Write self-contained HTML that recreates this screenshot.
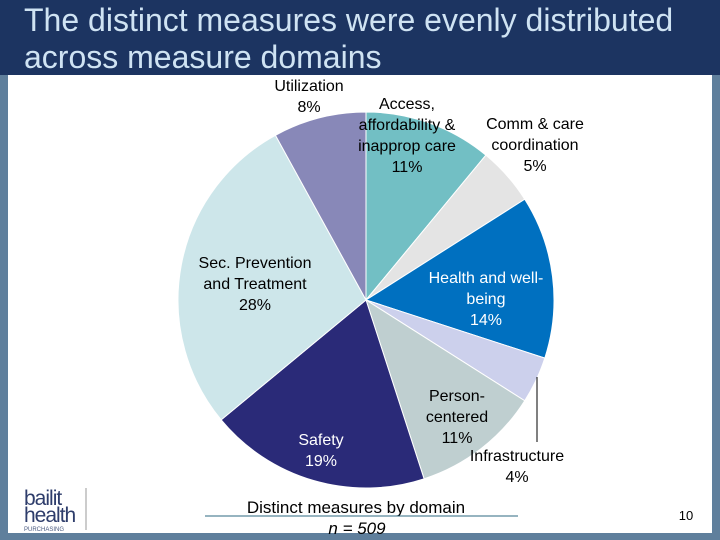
<!DOCTYPE html>
<html><head><meta charset="utf-8"><style>
body{margin:0;width:720px;height:540px;overflow:hidden;background:#5f7f9c;font-family:"Liberation Sans",sans-serif;}
#frame{position:absolute;left:0;top:0;width:720px;height:540px;}
#content{position:absolute;left:8px;top:75px;width:704px;height:458px;background:#fff;}
#header{position:absolute;left:0;top:0;width:720px;height:75px;background:#1c3461;}
#title{position:absolute;left:24px;top:2px;color:#cfe3f3;font-size:32px;line-height:37px;white-space:nowrap;}
svg{position:absolute;left:0;top:0;}
</style></head><body>
<div id="frame">
<div id="content"></div>
<div id="header"><div id="title">The distinct measures were evenly distributed<br>across measure domains</div></div>
<svg width="720" height="540" id="chart"></svg>
</div>
<script>
const categories=["Access","Comm & care coordination","Health and well-being","Infrastructure","Person-centered","Safety","Sec. Prevention and Treatment","Utilization"];
const values=[11,5,14,4,11,19,28,8];
const colors=["#72bfc4","#e4e4e4","#0070c0","#ccd0ec","#bfcfd0","#2a2a78","#cde6ea","#8888b8"];
const NS="http://www.w3.org/2000/svg";
const svg=document.getElementById('chart');
const cx=366,cy=300,r=188;
const total=values.reduce((a,b)=>a+b,0);
let a0=0;
function pt(a){return [cx+r*Math.sin(a),cy-r*Math.cos(a)];}
values.forEach((v,i)=>{
  const a1=a0+v/total*2*Math.PI;
  const p0=pt(a0),p1=pt(a1);
  const p=document.createElementNS(NS,'path');
  p.setAttribute('d',`M${cx},${cy}L${p0[0]},${p0[1]}A${r},${r} 0 ${a1-a0>Math.PI?1:0} 1 ${p1[0]},${p1[1]}Z`);
  p.setAttribute('fill',colors[i]);p.setAttribute('stroke','#fff');p.setAttribute('stroke-width','1');
  
  
  svg.appendChild(p);
  a0=a1;
});
const labels=[
 [["Utilization",`${values[7]}%`],309,91,"#000"],
 [["Access,","affordability &","inapprop care",`${values[0]}%`],407,109,"#000"],
 [["Comm & care","coordination",`${values[1]}%`],535,129,"#000"],
 [["Health and well-","being",`${values[2]}%`],486,283,"#fff"],
 [["Person-","centered",`${values[4]}%`],457,401,"#000"],
 [["Infrastructure",`${values[3]}%`],517,461,"#000"],
 [["Safety",`${values[5]}%`],321,445,"#fff"],
 [["Sec. Prevention","and Treatment",`${values[6]}%`],255,268,"#000"]
];
labels.forEach(([lines,x,y,c])=>{
  const t=document.createElementNS(NS,'text');
  t.setAttribute('x',x);t.setAttribute('y',y);t.setAttribute('text-anchor','middle');
  t.setAttribute('font-size','16');t.setAttribute('fill',c);t.setAttribute('font-family','Liberation Sans, sans-serif');
  
  
  lines.forEach((l,j)=>{const s=document.createElementNS(NS,'tspan');s.setAttribute('x',x);s.setAttribute('dy',j?21:0);s.textContent=l;t.appendChild(s);});
  svg.appendChild(t);
});
</script>
<svg width="720" height="540" style="pointer-events:none">
<line x1="537" y1="377" x2="537" y2="442" stroke="#000" stroke-width="1"/>
<text x="356" y="513" text-anchor="middle" font-size="17" fill="#000">Distinct measures by domain</text>
<line x1="205" y1="516" x2="518" y2="516" stroke="#2d6a80" stroke-width="1"/>
<text x="357" y="534" text-anchor="middle" font-size="17" font-style="italic" fill="#000">n = 509</text>
<text x="686" y="520" text-anchor="middle" font-size="13" fill="#000">10</text>
<g>
<text x="24" y="505" font-size="21" fill="#2e3d6b" font-family="Liberation Sans, sans-serif" style="letter-spacing:-1px">bailit</text>
<text x="24" y="522" font-size="21" fill="#2e3d6b" style="letter-spacing:-1px">health</text>
<text x="24" y="531" font-size="6" fill="#4a5a80">PURCHASING</text>
<line x1="86" y1="488" x2="86" y2="530" stroke="#999" stroke-width="1"/>
</g>
</svg>
</body></html>
